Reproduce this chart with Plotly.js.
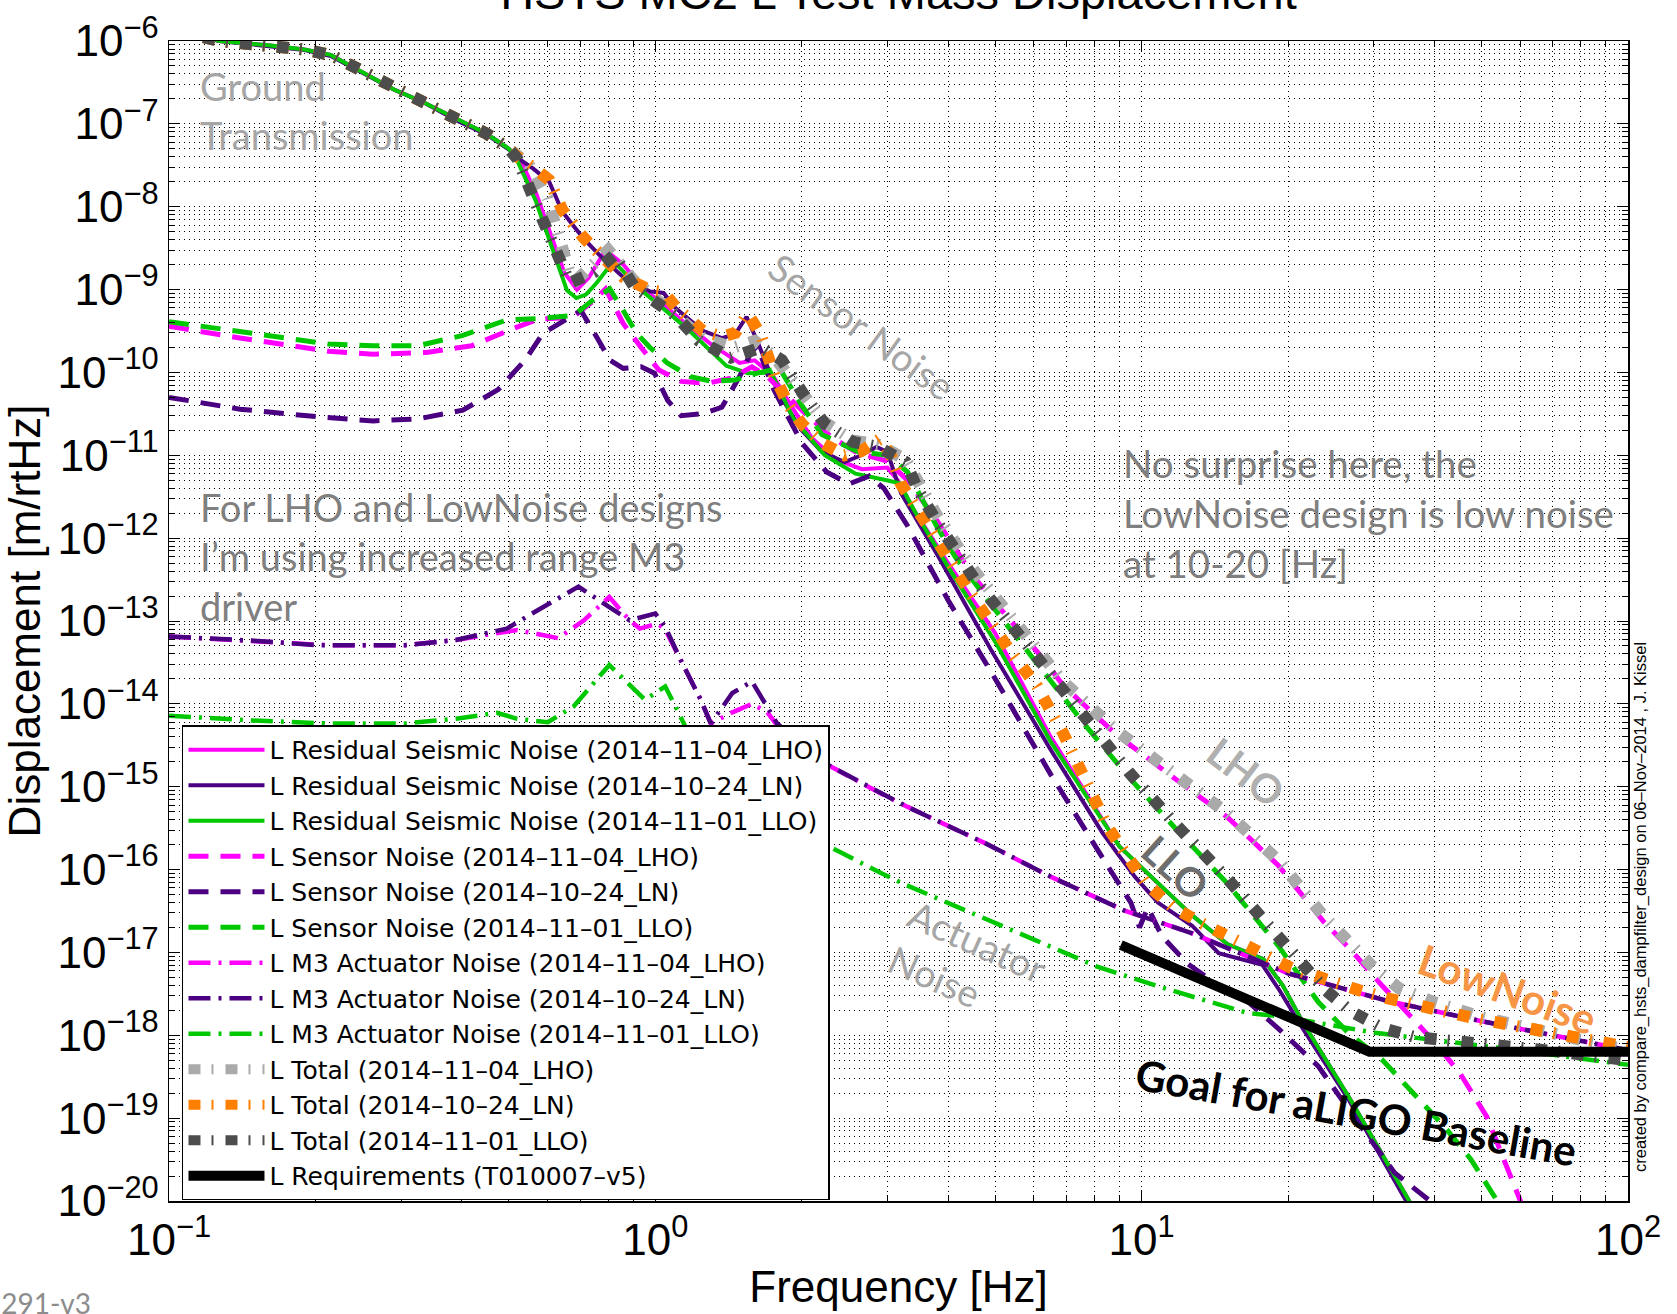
<!DOCTYPE html>
<html>
<head>
<meta charset="utf-8">
<script src="https://cdn.plot.ly/plotly-3.0.1.min.js"></script>
<style>
  html, body { margin: 0; padding: 0; background: #ffffff; }
  #chart { width: 1677px; height: 1314px; }
</style>
</head>
<body>
<div id="chart"></div>
<script>
// ---- L residual seismic noise [m/rtHz] ----
const freqResidLHO = [0.1, 0.115, 0.127, 0.16, 0.19, 0.215, 0.25, 0.29, 0.335, 0.39, 0.45, 0.5, 0.53, 0.57, 0.61, 0.65, 0.69, 0.73, 0.79, 0.86, 0.94, 1.05, 1.16, 1.3, 1.49, 1.6, 1.75, 1.9, 2.1, 2.35, 2.66, 3.0, 3.15, 3.4, 4.0, 5.0, 6.5, 9.0, 10, 12.7, 15, 17.8, 19.5, 21.5, 27, 35.5, 42];
const residLHO = [1.6e-6, 1.15e-6, 1.0e-6, 8.9e-7, 7.9e-7, 6.8e-7, 4.2e-7, 2.6e-7, 1.8e-7, 1.15e-7, 7.6e-8, 5.0e-8, 3.5e-8, 1.4e-8, 4.5e-9, 1.6e-9, 1.0e-9, 1.4e-9, 3.0e-9, 2.0e-9, 1.05e-9, 6.3e-10, 3.8e-10, 2.2e-10, 1.3e-10, 1.4e-10, 8.9e-11, 4.0e-11, 1.6e-11, 8.9e-12, 6.8e-12, 7.1e-12, 5.0e-12, 2.2e-12, 5.0e-13, 7.1e-14, 4.0e-15, 1.9e-16, 1.05e-16, 2.8e-17, 1.26e-17, 8.3e-18, 4.0e-18, 1.4e-18, 1.6e-19, 1.0e-20, 1.6e-21];

const freqResidLN = [0.1, 0.115, 0.127, 0.16, 0.19, 0.215, 0.25, 0.29, 0.335, 0.39, 0.45, 0.5, 0.52, 0.56, 0.605, 0.644, 0.71, 0.773, 0.86, 0.975, 1.04, 1.1, 1.25, 1.37, 1.46, 1.54, 1.62, 1.76, 1.9, 2.0, 2.2, 2.45, 2.65, 2.85, 3.0, 3.2, 3.8, 4.9, 6.5, 8.3, 9.0, 9.7, 10.8, 12.7, 14.4, 16.3, 17.7, 19.2, 21.1, 26.6, 35, 40];
const residLN = [1.6e-6, 1.15e-6, 1.0e-6, 8.7e-7, 7.8e-7, 6.6e-7, 4.1e-7, 2.6e-7, 1.8e-7, 1.1e-7, 7.4e-8, 4.9e-8, 3.9e-8, 2.9e-8, 2.0e-8, 8.7e-9, 4.2e-9, 2.5e-9, 1.4e-9, 9.5e-10, 9.1e-10, 6.0e-10, 3.2e-10, 2.6e-10, 2.9e-10, 4.7e-10, 2.4e-10, 7.1e-11, 3.2e-11, 2.0e-11, 1.1e-11, 8.3e-12, 1.0e-11, 1.26e-11, 1.1e-11, 3.5e-12, 6.3e-13, 4.5e-14, 2.8e-15, 2.8e-16, 1.45e-16, 8.1e-17, 4.0e-17, 2.1e-17, 9.8e-18, 8.1e-18, 7.1e-18, 3.5e-18, 1.4e-18, 1.7e-19, 1.0e-20, 2.5e-21];

const freqResidLLO = [0.1, 0.115, 0.127, 0.16, 0.19, 0.215, 0.25, 0.29, 0.335, 0.39, 0.45, 0.5, 0.52, 0.567, 0.618, 0.658, 0.688, 0.72, 0.757, 0.82, 0.936, 1.155, 1.4, 1.55, 1.73, 1.92, 2.23, 2.58, 2.99, 3.18, 3.4, 4.0, 5.0, 6.5, 9.0, 10, 12.7, 15, 17.8, 19.5, 21.5, 27, 35.5, 42];
const residLLO = [1.6e-6, 1.15e-6, 1.0e-6, 8.9e-7, 7.9e-7, 6.8e-7, 4.2e-7, 2.6e-7, 1.8e-7, 1.15e-7, 7.6e-8, 5.0e-8, 3.6e-8, 1.2e-8, 2.7e-9, 9.8e-10, 7.9e-10, 8.7e-10, 1.2e-9, 2.2e-9, 9.8e-10, 3.5e-10, 1.2e-10, 9.8e-11, 1.0e-10, 2.8e-11, 1.0e-11, 6.0e-12, 5.0e-12, 4.6e-12, 2.2e-12, 4.5e-13, 5.6e-14, 3.5e-15, 1.9e-16, 1.05e-16, 2.8e-17, 1.26e-17, 8.3e-18, 4.0e-18, 1.4e-18, 1.6e-19, 1.0e-20, 1.6e-21];

// ---- L sensor noise ----
const freqSensorLHO = [0.1, 0.14, 0.213, 0.263, 0.339, 0.419, 0.518, 0.575, 0.675, 0.742, 0.79, 0.859, 0.935, 1.017, 1.13, 1.28, 1.43, 1.58, 1.7, 2.0, 2.3, 2.6, 3.0, 3.3, 3.8, 4.5, 5.0, 6.2, 6.9, 8.85, 11.5, 15, 19.1, 23.6, 27, 31.3, 39.7, 45.1, 51.2, 55, 59.1, 63];
const sensorLHO = [3.6e-10, 2.6e-10, 1.8e-10, 1.66e-10, 1.74e-10, 2.1e-10, 3.5e-10, 4.4e-10, 4.6e-10, 7.1e-10, 1.02e-9, 3.9e-10, 2.0e-10, 1.07e-10, 7.8e-11, 7.4e-11, 8.5e-11, 1.17e-10, 8.9e-11, 3.5e-11, 1.66e-11, 1.07e-11, 8.5e-12, 5.0e-12, 1.6e-12, 3.5e-13, 1.66e-13, 3.8e-14, 1.66e-14, 4.3e-15, 1.35e-15, 4.3e-16, 1.12e-16, 2.4e-17, 1.05e-17, 3.9e-18, 8.7e-19, 3.5e-19, 1.05e-19, 3.8e-20, 1.38e-20, 5.0e-21];

const freqSensorLN = [0.1, 0.14, 0.204, 0.263, 0.325, 0.402, 0.475, 0.54, 0.587, 0.653, 0.703, 0.757, 0.806, 0.859, 0.935, 0.996, 1.06, 1.13, 1.26, 1.37, 1.49, 1.57, 1.62, 1.75, 2.0, 2.25, 2.5, 2.75, 2.95, 3.3, 4.0, 5.0, 6.5, 8.5, 9.5, 9.9, 10.3, 11.0, 12.4, 14.1, 16.6, 19.2, 23.1, 27.6, 33.1, 39, 42];
const sensorLN = [5.0e-11, 3.6e-11, 2.9e-11, 2.6e-11, 2.75e-11, 3.5e-11, 6.2e-11, 1.41e-10, 2.95e-10, 4.3e-10, 5.6e-10, 2.7e-10, 1.41e-10, 1.12e-10, 1.17e-10, 9.8e-11, 4.6e-11, 3.0e-11, 3.2e-11, 3.8e-11, 8.9e-11, 1.7e-10, 2.1e-10, 6.3e-11, 1.41e-11, 6.3e-12, 4.5e-12, 5.6e-12, 4.0e-12, 1.41e-12, 1.78e-13, 2.0e-14, 1.41e-15, 1.12e-16, 4.0e-17, 2.0e-17, 3.5e-17, 1.58e-17, 7.4e-18, 4.3e-18, 2.5e-18, 1.17e-18, 4.2e-19, 9.5e-20, 2.2e-20, 1.02e-20, 5.0e-21];

const freqSensorLLO = [0.1, 0.14, 0.213, 0.263, 0.325, 0.402, 0.495, 0.587, 0.681, 0.742, 0.806, 0.859, 0.916, 0.975, 1.06, 1.18, 1.31, 1.46, 1.62, 1.8, 2.0, 2.2, 2.6, 3.0, 3.3, 3.8, 4.14, 5.02, 6.17, 7.66, 9.46, 11.7, 14.9, 19.1, 23.1, 26.6, 31.3, 36.2, 41.9, 47.5, 54, 58];
const sensorLLO = [4.1e-10, 3.1e-10, 2.2e-10, 2.1e-10, 2.1e-10, 2.8e-10, 4.3e-10, 4.5e-10, 4.9e-10, 7.4e-10, 1.02e-9, 5.6e-10, 2.95e-10, 2.0e-10, 1.29e-10, 8.9e-11, 7.8e-11, 8.1e-11, 9.8e-11, 1.12e-10, 4.0e-11, 1.78e-11, 1.12e-11, 1.0e-11, 6.3e-12, 1.35e-12, 5.9e-13, 1.32e-13, 2.75e-14, 5.5e-15, 1.26e-15, 3.2e-16, 7.1e-17, 1.2e-17, 2.5e-18, 1.07e-18, 5.0e-19, 2.0e-19, 7.9e-20, 3.2e-20, 1.02e-20, 5.0e-21];

// ---- L M3 actuator noise ----
const freqActLHO = [0.1, 0.148, 0.213, 0.306, 0.389, 0.45, 0.52, 0.632, 0.713, 0.804, 0.885, 0.929, 1.01, 1.048, 1.127, 1.24, 1.3, 1.44, 1.58, 1.7, 1.78, 2.2, 2.91, 3.28, 4.75, 6.53, 9.22, 12.7, 20, 32, 50, 100];
const actLHO = [6.5e-14, 5.8e-14, 5.1e-14, 5.1e-14, 5.9e-14, 6.8e-14, 7.8e-14, 6.2e-14, 1.02e-13, 1.95e-13, 1.02e-13, 8.1e-14, 9.3e-14, 7.9e-14, 3.4e-14, 1.12e-14, 5.8e-15, 7.9e-15, 1.0e-14, 7.9e-15, 5.5e-15, 2.0e-15, 8.3e-16, 5.8e-16, 2.1e-16, 8.1e-17, 3.2e-17, 1.7e-17, 5.6e-18, 2.6e-18, 1.48e-18, 6.6e-19];

const freqActLN = [0.1, 0.148, 0.203, 0.306, 0.389, 0.495, 0.573, 0.695, 0.803, 0.885, 1.0, 1.048, 1.127, 1.24, 1.3, 1.44, 1.58, 1.7, 1.78, 2.2, 2.91, 3.28, 4.75, 6.53, 9.22, 12.7, 20, 32, 50, 100];
const actLN = [6.5e-14, 5.8e-14, 5.1e-14, 5.1e-14, 5.9e-14, 8.1e-14, 1.35e-13, 2.6e-13, 1.48e-13, 1.02e-13, 1.23e-13, 8.5e-14, 3.4e-14, 1.12e-14, 5.8e-15, 1.35e-14, 1.86e-14, 9.3e-15, 5.8e-15, 2.0e-15, 8.3e-16, 5.8e-16, 2.1e-16, 8.1e-17, 3.2e-17, 1.7e-17, 5.6e-18, 2.6e-18, 1.48e-18, 6.6e-19];

const freqActLLO = [0.1, 0.148, 0.213, 0.306, 0.389, 0.472, 0.52, 0.601, 0.679, 0.804, 0.952, 1.048, 1.1, 1.18, 1.5, 2.0, 2.91, 3.28, 6.04, 8.07, 10.8, 16.5, 19.2, 30.2, 57, 100];
const actLLO = [7.2e-15, 6.3e-15, 5.8e-15, 5.8e-15, 6.6e-15, 7.8e-15, 6.6e-15, 6.0e-15, 9.3e-15, 2.95e-14, 1.12e-14, 1.62e-14, 9.3e-15, 4.0e-15, 1.0e-15, 2.8e-16, 9.1e-17, 6.5e-17, 1.41e-17, 6.8e-18, 3.9e-18, 1.86e-18, 1.7e-18, 1.07e-18, 6.8e-19, 4.4e-19];

// ---- L total ----
const freqTotalLHO = [0.1, 0.115, 0.127, 0.16, 0.19, 0.215, 0.25, 0.29, 0.335, 0.39, 0.45, 0.5, 0.55, 0.6, 0.63, 0.667, 0.69, 0.75, 0.8, 0.9, 1.0, 1.1, 1.25, 1.45, 1.6, 1.75, 2.0, 2.23, 2.55, 2.87, 3.27, 3.79, 4.53, 5.02, 6.17, 6.89, 8.85, 11.5, 15, 19.1, 23.6, 29.6, 33.8, 40, 50, 70, 100];
const totalLHO = [1.6e-6, 1.15e-6, 1.0e-6, 8.9e-7, 7.9e-7, 6.8e-7, 4.2e-7, 2.6e-7, 1.8e-7, 1.15e-7, 7.6e-8, 5.0e-8, 3.2e-8, 1.26e-8, 5.0e-9, 1.58e-9, 1.32e-9, 2.0e-9, 3.0e-9, 1.32e-9, 7.6e-10, 5.0e-10, 2.6e-10, 2.0e-10, 2.4e-10, 1.58e-10, 5.6e-11, 2.5e-11, 1.51e-11, 1.35e-11, 8.9e-12, 1.9e-12, 4.0e-13, 1.9e-13, 4.5e-14, 1.86e-14, 4.8e-15, 1.51e-15, 4.8e-16, 1.29e-16, 2.8e-17, 7.1e-18, 3.7e-18, 2.5e-18, 1.66e-18, 1.05e-18, 6.6e-19];

const freqTotalLN = [0.1, 0.115, 0.127, 0.16, 0.19, 0.215, 0.25, 0.29, 0.335, 0.39, 0.45, 0.5, 0.52, 0.56, 0.605, 0.644, 0.71, 0.773, 0.86, 0.975, 1.04, 1.1, 1.25, 1.37, 1.46, 1.55, 1.65, 1.76, 1.88, 2.0, 2.2, 2.45, 2.65, 2.9, 3.05, 3.2, 3.8, 4.5, 5.4, 6.1, 6.9, 8.5, 10.2, 11.6, 13.4, 17.3, 20.3, 28, 32, 48, 83, 100];
const totalLN = [1.6e-6, 1.15e-6, 1.0e-6, 8.9e-7, 7.9e-7, 6.8e-7, 4.2e-7, 2.6e-7, 1.8e-7, 1.15e-7, 7.6e-8, 5.0e-8, 4.0e-8, 3.0e-8, 2.1e-8, 9.1e-9, 4.3e-9, 2.6e-9, 1.41e-9, 9.8e-10, 9.3e-10, 6.2e-10, 3.2e-10, 2.7e-10, 3.0e-10, 5.1e-10, 2.8e-10, 8.9e-11, 4.0e-11, 2.4e-11, 1.41e-11, 1.0e-11, 1.12e-11, 1.58e-11, 1.0e-11, 4.5e-12, 8.7e-13, 1.95e-13, 4.1e-14, 1.62e-14, 4.4e-15, 3.3e-16, 6.8e-17, 3.5e-17, 2.2e-17, 1.07e-17, 6.5e-18, 3.5e-18, 2.8e-18, 1.62e-18, 8.7e-19, 7.2e-19];

const freqTotalLLO = [0.1, 0.115, 0.127, 0.16, 0.19, 0.215, 0.25, 0.29, 0.335, 0.39, 0.45, 0.5, 0.52, 0.587, 0.626, 0.667, 0.749, 0.823, 0.906, 1.017, 1.107, 1.23, 1.43, 1.65, 1.82, 2.01, 2.23, 2.55, 2.87, 3.27, 3.47, 3.79, 4.14, 4.53, 5.02, 5.56, 6.17, 6.84, 7.66, 9.46, 11.7, 14.9, 19.1, 23.9, 26.9, 31.2, 36.5, 51.5, 72.8, 100];
const totalLLO = [1.6e-6, 1.15e-6, 1.0e-6, 8.9e-7, 7.9e-7, 6.8e-7, 4.2e-7, 2.6e-7, 1.8e-7, 1.15e-7, 7.6e-8, 5.0e-8, 3.8e-8, 6.9e-9, 2.8e-9, 1.2e-9, 1.62e-9, 2.6e-9, 1.07e-9, 6.5e-10, 4.7e-10, 2.4e-10, 1.51e-10, 2.0e-10, 1.41e-10, 5.6e-11, 2.4e-11, 1.45e-11, 1.26e-11, 8.3e-12, 3.8e-12, 1.58e-12, 6.9e-13, 3.2e-13, 1.51e-13, 7.1e-14, 3.2e-14, 1.48e-14, 6.3e-15, 1.45e-15, 3.6e-16, 8.1e-17, 1.55e-17, 3.5e-18, 1.95e-18, 1.23e-18, 9.5e-19, 7.9e-19, 6.3e-19, 5.0e-19];

// ---- L requirement (T010007-v5) ----
const freqReq = [9.06, 29.4, 100];
const reqL = [1.23e-17, 6.35e-19, 6.35e-19];

// ---- axis ticks ----
const xTickVals = [0.1, 1, 10, 100];
const xTickText = ['10<sup>−1</sup>', '10<sup>0</sup>', '10<sup>1</sup>', '10<sup>2</sup>'];
const yTickVals = [1e-20, 1e-19, 1e-18, 1e-17, 1e-16, 1e-15, 1e-14, 1e-13, 1e-12, 1e-11, 1e-10, 1e-9, 1e-8, 1e-7, 1e-6];
const yTickText = ['10<sup>−20</sup>', '10<sup>−19</sup>', '10<sup>−18</sup>', '10<sup>−17</sup>', '10<sup>−16</sup>',
                   '10<sup>−15</sup>', '10<sup>−14</sup>', '10<sup>−13</sup>', '10<sup>−12</sup>', '10<sup>−11</sup>',
                   '10<sup>−10</sup>', '10<sup>−9</sup>', '10<sup>−8</sup>', '10<sup>−7</sup>', '10<sup>−6</sup>'];

// ---- legend labels ----
const labels = [
  'L Residual Seismic Noise (2014–11–04_LHO)',
  'L Residual Seismic Noise (2014–10–24_LN)',
  'L Residual Seismic Noise (2014–11–01_LLO)',
  'L Sensor Noise (2014–11–04_LHO)',
  'L Sensor Noise (2014–10–24_LN)',
  'L Sensor Noise (2014–11–01_LLO)',
  'L M3 Actuator Noise (2014–11–04_LHO)',
  'L M3 Actuator Noise (2014–10–24_LN)',
  'L M3 Actuator Noise (2014–11–01_LLO)',
  'L Total (2014–11–04_LHO)',
  'L Total (2014–10–24_LN)',
  'L Total (2014–11–01_LLO)',
  'L Requirements (T010007–v5)'
];

// ---- styling ----
const C_LHO = '#ff00ff', C_LN = '#4b0082', C_LLO = '#00c800';
const C_TOT_LHO = '#aaaaaa', C_TOT_LN = '#ff8000', C_TOT_LLO = '#4d4d4d';
const DASHED = '20px,12px';
const DASHDOT = '22px,8px,3px,8px';
const TOTAL = '12px,11px,2px,12px';

function curve(name, x, y, color, width, dash) {
  return { type: 'scatter', mode: 'lines', name: name, x: x, y: y,
           line: { color: color, width: width, dash: dash }, hoverinfo: 'skip' };
}

const traces = [
  curve(labels[0], freqResidLHO, residLHO, C_LHO, 4, 'solid'),
  curve(labels[1], freqResidLN, residLN, C_LN, 4, 'solid'),
  curve(labels[2], freqResidLLO, residLLO, C_LLO, 4, 'solid'),
  curve(labels[3], freqSensorLHO, sensorLHO, C_LHO, 5, DASHED),
  curve(labels[4], freqSensorLN, sensorLN, C_LN, 5, DASHED),
  curve(labels[5], freqSensorLLO, sensorLLO, C_LLO, 5, DASHED),
  curve(labels[6], freqActLHO, actLHO, C_LHO, 4.5, DASHDOT),
  curve(labels[7], freqActLN, actLN, C_LN, 4.5, DASHDOT),
  curve(labels[8], freqActLLO, actLLO, C_LLO, 4.5, DASHDOT),
  curve(labels[9], freqTotalLHO, totalLHO, C_TOT_LHO, 12, TOTAL),
  curve(labels[10], freqTotalLN, totalLN, C_TOT_LN, 12, TOTAL),
  curve(labels[11], freqTotalLLO, totalLLO, C_TOT_LLO, 12, TOTAL),
  curve(labels[12], freqReq, reqL, '#000000', 10, 'solid')
];

const MINOR = { dtick: 'D1', ticks: 'inside', ticklen: 6, tickwidth: 1, tickcolor: '#000000',
                showgrid: true, gridcolor: '#000000', gridwidth: 1, griddash: '1px,4px' };

function axisBase() {
  return {
    type: 'log', tickmode: 'array', tickfont: { size: 44 },
    ticks: 'inside', ticklen: 11, tickwidth: 1, tickcolor: '#000000',
    showline: true, linecolor: '#000000', linewidth: 1.5, mirror: 'allticks',
    showgrid: true, gridcolor: '#000000', gridwidth: 1, griddash: '1px,4px',
    zeroline: false, minor: MINOR
  };
}

const noteFont = 'Lato, "Open Sans", sans-serif';
function note(text, x, y, color, size, angle, extra) {
  return Object.assign({ text: text, x: x, y: y, xref: 'paper', yref: 'paper', showarrow: false,
    xanchor: 'center', yanchor: 'middle',
    textangle: angle || 0, font: { family: noteFont, size: size, color: color } }, extra || {});
}

const layout = {
  width: 1677, height: 1314,
  margin: { l: 169, r: 49, t: 41, b: 113 },
  paper_bgcolor: '#ffffff', plot_bgcolor: '#ffffff',
  font: { family: '"Liberation Sans", Arial, Helvetica, sans-serif', color: '#000000' },
  title: { text: 'HSTS MC2 L Test Mass Displacement', font: { size: 47, color: '#000000' },
           x: 0.5, xref: 'paper', xanchor: 'center', y: 1, yref: 'paper', yanchor: 'bottom', pad: { b: 32 } },
  showlegend: true,
  legend: {
    x: 0.0089, y: 0.41, xanchor: 'left', yanchor: 'top',
    bgcolor: '#ffffff', bordercolor: '#000000', borderwidth: 1.5,
    font: { family: '"DejaVu Sans", "Liberation Sans", sans-serif', size: 25, color: '#000000' },
    itemwidth: 76, tracegroupgap: 0
  },
  xaxis: Object.assign(axisBase(), {
    range: [-1, 2], tickvals: xTickVals, ticktext: xTickText,
    title: { text: 'Frequency [Hz]', font: { size: 44 }, standoff: 8 }
  }),
  yaxis: Object.assign(axisBase(), {
    range: [-20, -6], tickvals: yTickVals, ticktext: yTickText,
    title: { text: 'Displacement [m/rtHz]', font: { size: 44 }, standoff: 4 }
  }),
  annotations: [
    note('Ground<br>Transmission', 0.0199, 0.9397, '#a6a6a6', 38, 0, { xanchor: 'left', align: 'left' }),
    note('For LHO and LowNoise designs<br>I’m using increased range M3<br>driver', 0.0199, 0.556, '#7f7f7f', 38, 0, { xanchor: 'left', align: 'left' }),
    note('No surprise here, the<br>LowNoise design is low noise<br>at 10-20 [Hz]', 0.6525, 0.593, '#7f7f7f', 38.5, 0, { xanchor: 'left', align: 'left' }),
    note('Sensor Noise', 0.475, 0.754, '#a6a6a6', 38, 36),
    note('Actuator<br>Noise', 0.5476, 0.205, '#a6a6a6', 38, 24, { align: 'left' }),
    note('<b>LHO</b>', 0.738, 0.3698, '#b0b0b0', 40, 37),
    note('<b>LLO</b>', 0.690, 0.287, '#6e6e6e', 40, 42),
    note('<b>LowNoise</b>', 0.9177, 0.1828, '#f79646', 42, 20),
    note('<b>Goal for aLIGO Baseline</b>', 0.8136, 0.0767, '#000000', 42, 10),
    { text: 'created by compare_hsts_dampfilter_design on 06–Nov–2014 , J. Kissel', x: 1.0082, y: 0.2534,
      xref: 'paper', yref: 'paper', showarrow: false, textangle: -90, xanchor: 'center', yanchor: 'middle',
      font: { family: '"Liberation Sans", Arial, sans-serif', size: 16.5, color: '#000000' } },
    note('1291-v3', -0.0521, -0.0879, '#8c8c8c', 28, 0, { xanchor: 'right' })
  ]
};

Plotly.newPlot('chart', traces, layout, { displayModeBar: false, staticPlot: true });
</script>
</body>
</html>
